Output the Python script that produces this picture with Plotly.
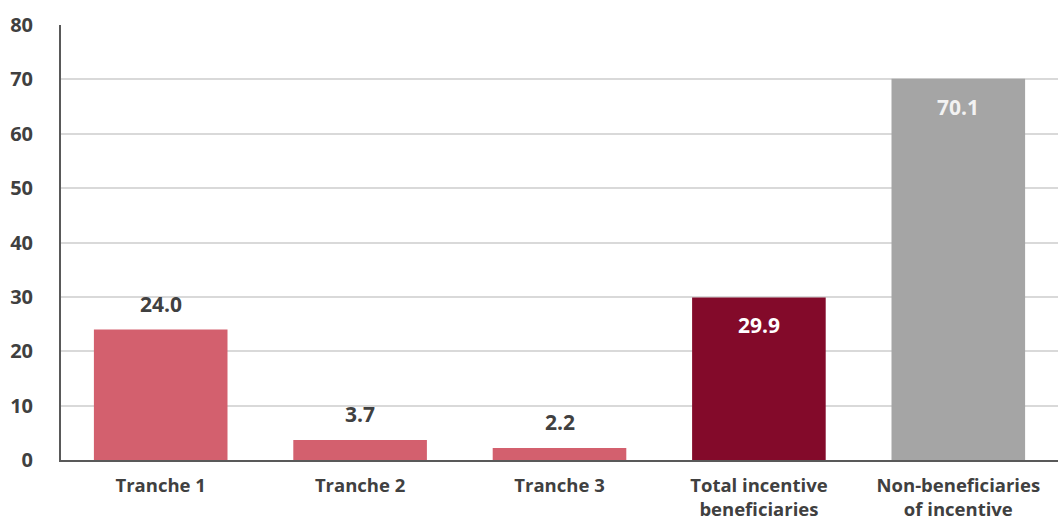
import plotly.graph_objects as go

categories = ["Tranche 1", "Tranche 2", "Tranche 3",
              "Total incentive<br>beneficiaries", "Non-beneficiaries<br>of incentive"]
values = [24.0, 3.7, 2.2, 29.9, 70.1]
bar_colors = ["#D3606E", "#D3606E", "#D3606E", "#830A2A", "#A5A5A5"]
label_inside = [False, False, False, True, True]
label_colors = ["#404040", "#404040", "#404040", "#FFFFFF", "#F2F2F2"]
y_ticks = [0, 10, 20, 30, 40, 50, 60, 70, 80]

FONT = "'Open Sans', 'DejaVu Sans', sans-serif"

fig = go.Figure(go.Bar(
    x=categories,
    y=values,
    marker=dict(color=bar_colors, line=dict(width=0)),
    width=0.67,
    hoverinfo="skip",
))

# value labels: above the light bars, inside the top of the dark bars
for cat, val, inside, col in zip(categories, values, label_inside, label_colors):
    fig.add_annotation(
        x=cat, y=val, text=f"<b>{val:.1f}</b>",
        showarrow=False, yanchor="middle",
        yshift=-28 if inside else 26,
        font=dict(family=FONT, size=21, color=col),
    )

fig.update_layout(
    width=1058, height=521,
    margin=dict(l=61, r=0, t=25, b=61),
    paper_bgcolor="white", plot_bgcolor="white",
    showlegend=False,
    bargap=0.33,
    font=dict(family=FONT, color="#404040"),
)
fig.update_xaxes(
    automargin=False,
    showline=True, linecolor="#595959", linewidth=2,
    showgrid=False, ticks="",
    tickfont=dict(family=FONT, size=18.5, color="#404040", weight="bold"),
    ticklabelstandoff=8,
)
fig.update_yaxes(
    automargin=False,
    range=[0, 80], tickvals=y_ticks,
    showline=True, linecolor="#595959", linewidth=2,
    showgrid=True, gridcolor="#D9D9D9", gridwidth=1.5,
    zeroline=False, ticks="",
    tickfont=dict(family=FONT, size=20, color="#404040", weight="bold"),
    ticklabelstandoff=22,
)

fig.write_html("out.html")
